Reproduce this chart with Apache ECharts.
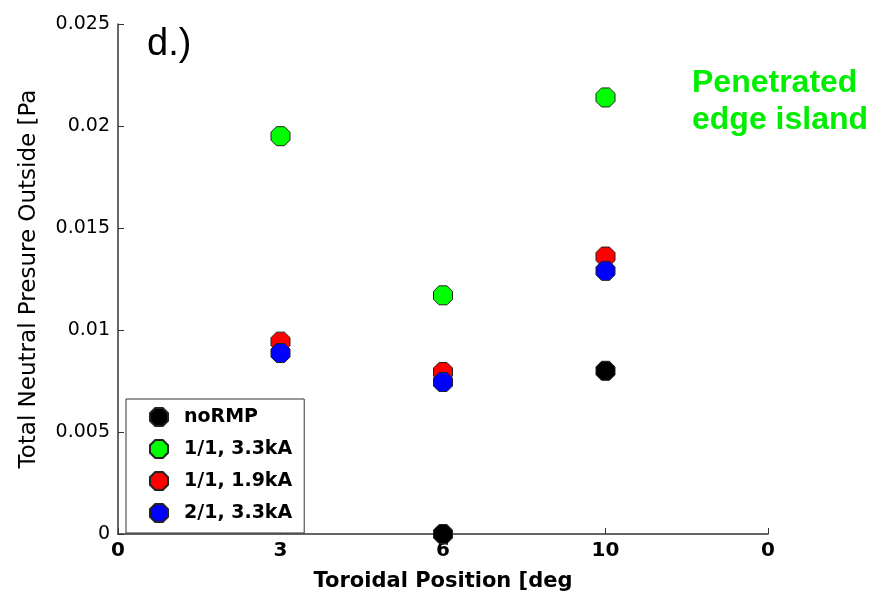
<!DOCTYPE html>
<html>
<head>
<meta charset="utf-8">
<script src="https://cdn.jsdelivr.net/npm/echarts@6/dist/echarts.min.js"></script>
<style>
  html, body { margin: 0; padding: 0; background: #fff; }
  #chart { width: 871px; height: 597px; }
</style>
</head>
<body>
<div id="chart"></div>
<script>
// Tick labels along the toroidal axis (equally spaced slots)
const positionLabels = ['0', '3', '6', '10', '0'];

// Total neutral pressure outside [Pa] per slot (null = no measurement)
const noRMP      = [null, null,   0,      0.0080, null];
const rmp11_33kA = [null, 0.0195, 0.0117, 0.0214, null];
const rmp11_19kA = [null, 0.00943, 0.00794, 0.0136, null];
const rmp21_33kA = [null, 0.00887, 0.00745, 0.0129, null];

const seriesNames = ['noRMP', '1/1, 3.3kA', '1/1, 1.9kA', '2/1, 3.3kA'];
const seriesColors = ['#000000', '#00ff00', '#ff0000', '#0000ff'];
const seriesValues = [noRMP, rmp11_33kA, rmp11_19kA, rmp21_33kA];

const yTicks = [0, 0.005, 0.01, 0.015, 0.02, 0.025];

const octagon = 'path://M7,0 L17,0 L24,7 L24,17 L17,24 L7,24 L0,17 L0,7 Z';

function toPoints(values) {
  const pts = [];
  values.forEach((v, i) => { if (v !== null) pts.push([i, v]); });
  return pts;
}

const chart = echarts.init(document.getElementById('chart'));

chart.setOption({
  animation: false,
  backgroundColor: '#ffffff',
  grid: { left: 118, right: 103, top: 24, bottom: 60 },
  xAxis: {
    type: 'value',
    min: 0,
    max: positionLabels.length - 1,
    interval: 1,
    name: 'Toroidal Position [deg',
    nameLocation: 'middle',
    nameGap: 37,
    nameTextStyle: { fontFamily: 'DejaVu Sans', fontSize: 21, fontWeight: 'bold', color: '#000' },
    axisLine: { lineStyle: { color: '#333', width: 1.5 } },
    axisTick: { inside: true, length: 6, lineStyle: { color: '#333' } },
    axisLabel: {
      margin: 7,
      fontFamily: 'DejaVu Sans', fontSize: 20, fontWeight: 'bold', color: '#000',
      formatter: v => positionLabels[Math.round(v)]
    },
    splitLine: { show: false }
  },
  yAxis: {
    type: 'value',
    min: 0,
    max: yTicks[yTicks.length - 1],
    interval: 0.005,
    name: 'Total Neutral Presure Outside [Pa',
    nameLocation: 'middle',
    nameRotate: 90,
    nameGap: 77,
    nameTextStyle: { fontFamily: 'DejaVu Sans', fontSize: 23, color: '#000' },
    axisLine: { show: true, lineStyle: { color: '#333', width: 1.5 } },
    axisTick: { show: true, inside: true, length: 6, lineStyle: { color: '#333' } },
    axisLabel: {
      margin: 8,
      fontFamily: 'DejaVu Sans', fontSize: 19, color: '#000',
      formatter: v => String(parseFloat(v.toFixed(4)))
    },
    splitLine: { show: false }
  },
  legend: {
    orient: 'vertical',
    left: 126,
    top: 399,
    padding: [8, 12, 10, 23],
    itemGap: 12,
    itemWidth: 18,
    itemHeight: 18,
    icon: octagon,
    borderColor: '#333',
    borderWidth: 1,
    backgroundColor: '#fff',
    textStyle: {
      fontFamily: 'DejaVu Sans', fontSize: 19, fontWeight: 'bold', color: '#000',
      padding: [0, 0, 0, 11], lineHeight: 18
    },
    data: seriesNames
  },
  graphic: [
    {
      type: 'text', left: 147, top: 26,
      style: { text: 'd.)', font: '38px "Liberation Sans", Arial, sans-serif', fill: '#000' }
    },
    {
      type: 'text', left: 692, top: 65,
      style: {
        text: 'Penetrated\nedge island',
        font: 'bold 32px "Liberation Sans", Arial, sans-serif',
        fill: '#00ee00', lineHeight: 37
      }
    }
  ],
  series: seriesValues.map((vals, k) => ({
    type: 'scatter',
    name: seriesNames[k],
    data: toPoints(vals),
    symbol: octagon,
    symbolSize: 19,
    clip: false,
    itemStyle: { color: seriesColors[k], borderColor: '#222', borderWidth: 1, opacity: 1 }
  }))
});
</script>
</body>
</html>
